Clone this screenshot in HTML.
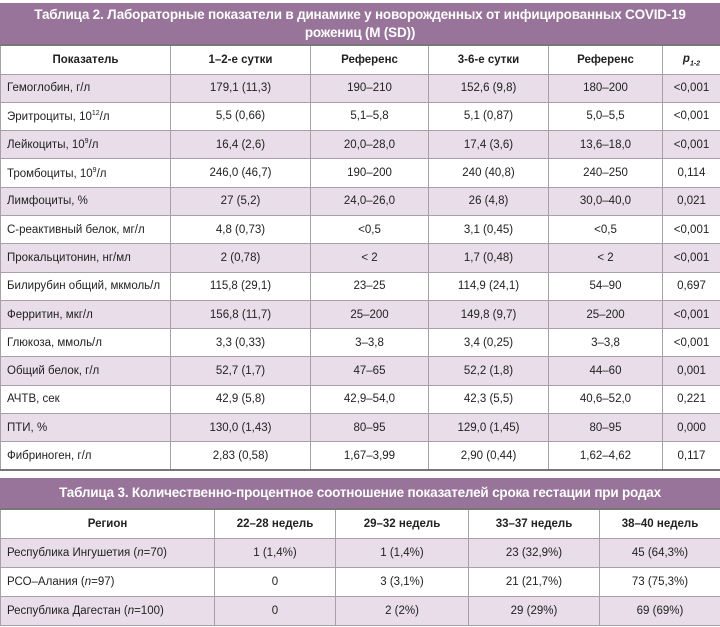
<!DOCTYPE html>
<html><head><meta charset="utf-8"><style>
body{margin:0;width:720px;height:627px;background:#fff;font-family:"Liberation Sans","Noto Sans CJK SC",sans-serif;overflow:hidden}
.t{position:absolute;left:0;width:720px;border-collapse:collapse;table-layout:fixed;font-size:11.5px;color:#222}
.title{background:#98739a;color:#fff;font-weight:bold;text-align:center;font-size:13.5px;line-height:18px;position:absolute;left:0;width:720px;box-sizing:border-box;letter-spacing:-0.2px}
td,th{border:1px solid #a8a0a8;text-align:center;padding:0;overflow:hidden;white-space:nowrap}
th{font-weight:bold;font-size:11.5px}
td:first-child{text-align:left;padding-left:6px}
tr.o td{background:#e8dde9}
tr:first-child th{border-top:2px solid #777}
</style></head><body>
<div class="title" style="top:3px;height:41px;padding-top:3px">Таблица 2. Лабораторные показатели в динамике у новорожденных от инфицированных COVID-19<br>рожениц (M (SD))</div>
<table class="t" style="top:44px">
<colgroup><col style="width:170px"><col style="width:140px"><col style="width:118px"><col style="width:120px"><col style="width:114px"><col style="width:58px"></colgroup>
<tr style="height:29px"><th>Показатель</th><th>1–2-е сутки</th><th>Референс</th><th>3-6-е сутки</th><th>Референс</th><th><i>p</i><sub style="font-size:7px"><i>1-2</i></sub></th></tr>
<tr class="o" style="height:28.3px"><td>Гемоглобин, г/л</td><td>179,1 (11,3)</td><td>190–210</td><td>152,6 (9,8)</td><td>180–200</td><td>&lt;0,001</td></tr>
<tr style="height:28.3px"><td>Эритроциты, 10<sup style="font-size:7px">12</sup>/л</td><td>5,5 (0,66)</td><td>5,1–5,8</td><td>5,1 (0,87)</td><td>5,0–5,5</td><td>&lt;0,001</td></tr>
<tr class="o" style="height:28.3px"><td>Лейкоциты, 10<sup style="font-size:7px">9</sup>/л</td><td>16,4 (2,6)</td><td>20,0–28,0</td><td>17,4 (3,6)</td><td>13,6–18,0</td><td>&lt;0,001</td></tr>
<tr style="height:28.3px"><td>Тромбоциты, 10<sup style="font-size:7px">9</sup>/л</td><td>246,0 (46,7)</td><td>190–200</td><td>240 (40,8)</td><td>240–250</td><td>0,114</td></tr>
<tr class="o" style="height:28.3px"><td>Лимфоциты, %</td><td>27 (5,2)</td><td>24,0–26,0</td><td>26 (4,8)</td><td>30,0–40,0</td><td>0,021</td></tr>
<tr style="height:28.3px"><td>С-реактивный белок, мг/л</td><td>4,8 (0,73)</td><td>&lt;0,5</td><td>3,1 (0,45)</td><td>&lt;0,5</td><td>&lt;0,001</td></tr>
<tr class="o" style="height:28.3px"><td>Прокальцитонин, нг/мл</td><td>2 (0,78)</td><td>&lt; 2</td><td>1,7 (0,48)</td><td>&lt; 2</td><td>&lt;0,001</td></tr>
<tr style="height:28.3px"><td>Билирубин общий, мкмоль/л</td><td>115,8 (29,1)</td><td>23–25</td><td>114,9 (24,1)</td><td>54–90</td><td>0,697</td></tr>
<tr class="o" style="height:28.3px"><td>Ферритин, мкг/л</td><td>156,8 (11,7)</td><td>25–200</td><td>149,8 (9,7)</td><td>25–200</td><td>&lt;0,001</td></tr>
<tr style="height:28.3px"><td>Глюкоза, ммоль/л</td><td>3,3 (0,33)</td><td>3–3,8</td><td>3,4 (0,25)</td><td>3–3,8</td><td>&lt;0,001</td></tr>
<tr class="o" style="height:28.3px"><td>Общий белок, г/л</td><td>52,7 (1,7)</td><td>47–65</td><td>52,2 (1,8)</td><td>44–60</td><td>0,001</td></tr>
<tr style="height:28.3px"><td>АЧТВ, сек</td><td>42,9 (5,8)</td><td>42,9–54,0</td><td>42,3 (5,5)</td><td>40,6–52,0</td><td>0,221</td></tr>
<tr class="o" style="height:28.3px"><td>ПТИ, %</td><td>130,0 (1,43)</td><td>80–95</td><td>129,0 (1,45)</td><td>80–95</td><td>0,000</td></tr>
<tr style="height:28.3px;border-bottom:2px solid #777"><td>Фибриноген, г/л</td><td>2,83 (0,58)</td><td>1,67–3,99</td><td>2,90 (0,44)</td><td>1,62–4,62</td><td>0,117</td></tr>
</table>
<div class="title" style="top:478px;height:30px;padding-top:6px">Таблица 3. Количественно-процентное соотношение показателей срока гестации при родах</div>
<table class="t" style="top:508px">
<colgroup><col style="width:214px"><col style="width:121px"><col style="width:133px"><col style="width:131px"><col style="width:121px"></colgroup>
<tr style="height:29px"><th>Регион</th><th>22–28 недель</th><th>29–32 недель</th><th>33–37 недель</th><th>38–40 недель</th></tr>
<tr class="o" style="height:29px"><td>Республика Ингушетия (<i>n</i>=70)</td><td>1 (1,4%)</td><td>1 (1,4%)</td><td>23 (32,9%)</td><td>45 (64,3%)</td></tr>
<tr style="height:29px"><td>РСО–Алания (<i>n</i>=97)</td><td>0</td><td>3 (3,1%)</td><td>21 (21,7%)</td><td>73 (75,3%)</td></tr>
<tr class="o" style="height:29px"><td>Республика Дагестан (<i>n</i>=100)</td><td>0</td><td>2 (2%)</td><td>29 (29%)</td><td>69 (69%)</td></tr>
</table>
</body></html>
